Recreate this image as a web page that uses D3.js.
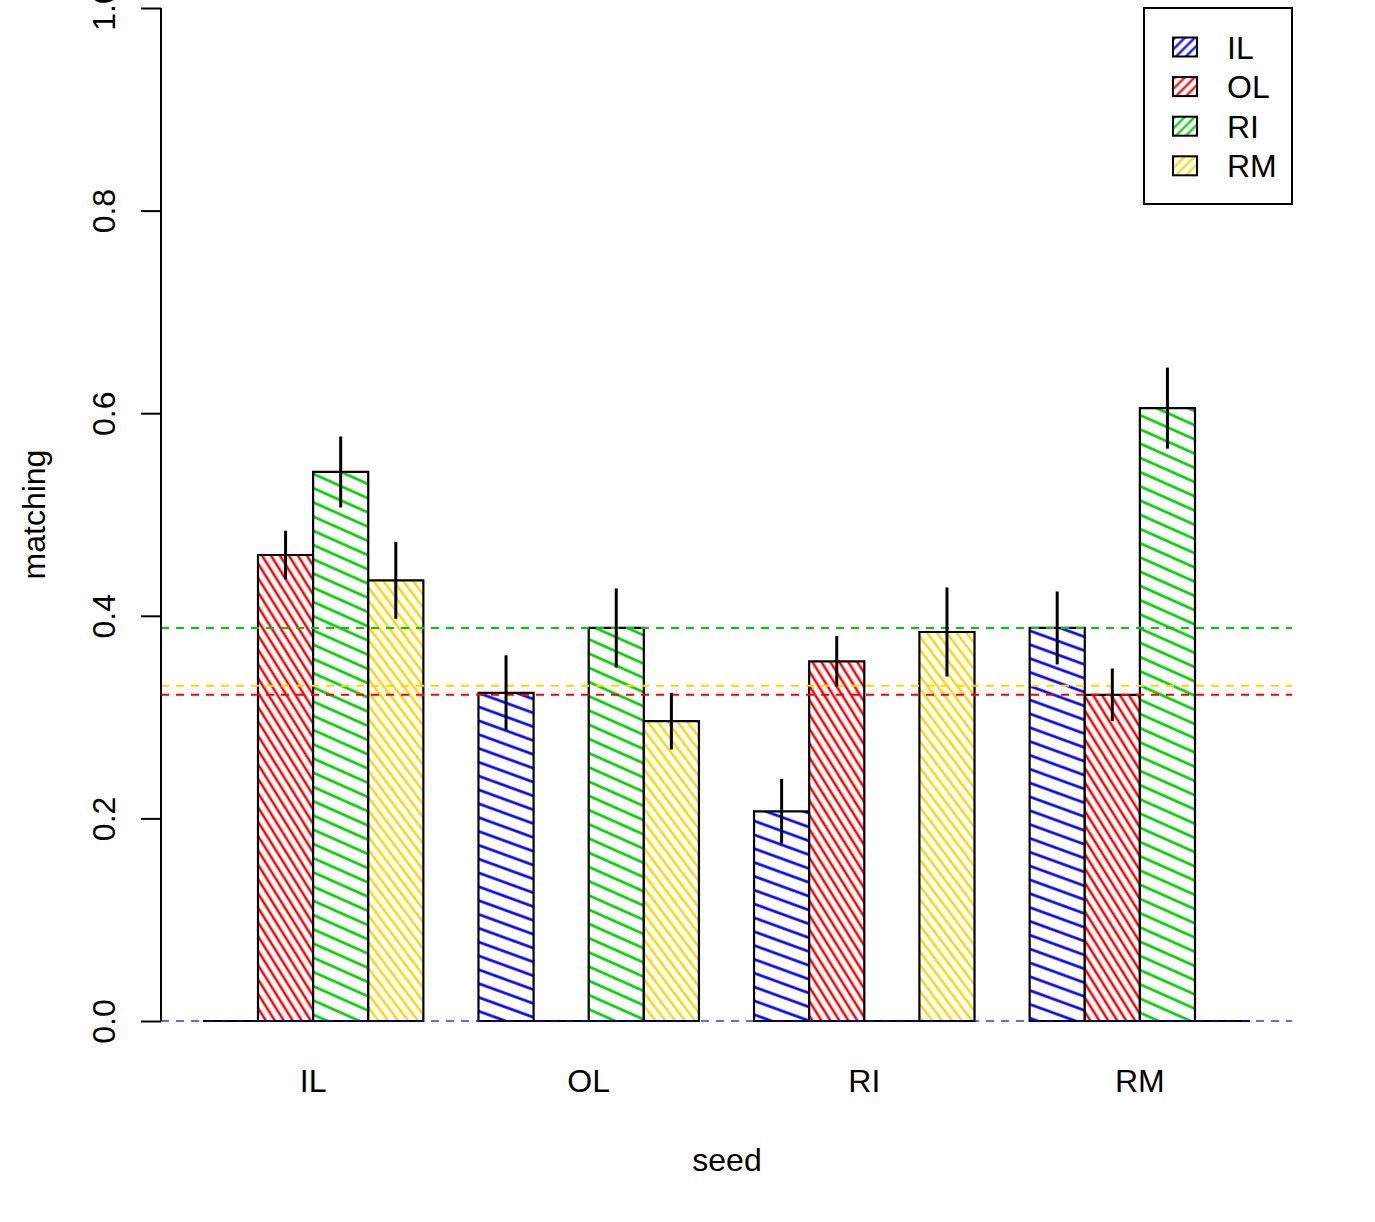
<!DOCTYPE html>
<html>
<head>
<meta charset="utf-8">
<script src="https://cdn.jsdelivr.net/npm/d3@7"></script>
<style>
  html, body { margin: 0; padding: 0; background: #fff; }
  svg { display: block; font-family: "Liberation Sans", Arial, Helvetica, sans-serif; }
</style>
</head>
<body>
<svg id="chart" width="1375" height="1222"></svg>
<script>
// ---- data ----
const categories = ["IL", "OL", "RI", "RM"];          // seed groups (x axis)
const seriesNames = ["IL", "OL", "RI", "RM"];         // bars within each group / legend
const valuesIL = [0.000, 0.324, 0.207, 0.388];
const valuesOL = [0.460, 0.000, 0.355, 0.322];
const valuesRI = [0.542, 0.388, 0.000, 0.605];
const valuesRM = [0.435, 0.296, 0.384, 0.000];
const errorsIL = [0.000, 0.037, 0.032, 0.036];
const errorsOL = [0.024, 0.000, 0.025, 0.026];
const errorsRI = [0.035, 0.039, 0.000, 0.040];
const errorsRM = [0.038, 0.028, 0.044, 0.000];
const baselines = [0.000, 0.322, 0.388, 0.331];       // dashed reference lines per series
const yTicks = [0.0, 0.2, 0.4, 0.6, 0.8, 1.0];
const xTitle = "seed";
const yTitle = "matching";

const seriesValues = [valuesIL, valuesOL, valuesRI, valuesRM];
const seriesErrors = [errorsIL, errorsOL, errorsRI, errorsRM];

// ---- styles ----
const colors = ["#0000FF", "#FF0000", "#00CD00", "#FFD700"];
const hatchAngle = [20, 58, 24, 53];
const hatchSpacing = [13, 7.6, 13, 7.9];
const hatchWidth = [2.6, 2.5, 2.6, 2.5];
const FONT = 32;

const svg = d3.select("#chart");
svg.append("rect").attr("width", 1375).attr("height", 1222).attr("fill", "#fff");

const defs = svg.append("defs");
seriesNames.forEach((s, i) => {
  const sp = hatchSpacing[i];
  const p = defs.append("pattern")
    .attr("id", "hatch" + i)
    .attr("patternUnits", "userSpaceOnUse")
    .attr("width", 10).attr("height", sp)
    .attr("patternTransform", `rotate(${hatchAngle[i]})`);
  p.append("rect").attr("width", 10).attr("height", sp).attr("fill", "#fff");
  p.append("line").attr("x1", -1).attr("x2", 11).attr("y1", sp / 2).attr("y2", sp / 2)
    .attr("stroke", colors[i]).attr("stroke-width", hatchWidth[i]);
  // legend pattern at 45 degrees
  const q = defs.append("pattern")
    .attr("id", "leg" + i)
    .attr("patternUnits", "userSpaceOnUse")
    .attr("width", 10).attr("height", 7)
    .attr("patternTransform", "rotate(-45)");
  q.append("rect").attr("width", 10).attr("height", 7).attr("fill", "#fff");
  q.append("line").attr("x1", -1).attr("x2", 11).attr("y1", 3.5).attr("y2", 3.5)
    .attr("stroke", colors[i]).attr("stroke-width", 2.2);
});

// ---- scales (R barplot semantics: space = c(0,1), 4 bars per group) ----
const nS = seriesNames.length;
const groupWidth = nS + 1;
const xMin = 1, xMax = categories.length * groupWidth;
const ext = (xMax - xMin) * 0.04;
const x = d3.scaleLinear().domain([xMin - ext, xMax + ext]).range([161, 1292]);
const y = d3.scaleLinear().domain([0, 1]).range([1021, 8]);

const bars = [];
categories.forEach((c, g) => {
  seriesNames.forEach((s, i) => {
    const left = g * groupWidth + 1 + i;
    bars.push({ g, i, left, value: seriesValues[i][g], err: seriesErrors[i][g] });
  });
});

// bars
svg.append("g").selectAll("path").data(bars).join("path")
  .attr("d", d => {
    const x0 = x(d.left), x1 = x(d.left + 1), y0 = y(0), y1 = y(d.value);
    return `M${x0},${y0}H${x1}V${y1}H${x0}Z`;
  })
  .attr("fill", d => `url(#hatch${d.i})`)
  .attr("stroke", "#000")
  .attr("stroke-width", 2.2);

// dashed reference lines
svg.append("g").selectAll("line").data(baselines).join("line")
  .attr("x1", x.range()[0]).attr("x2", x.range()[1])
  .attr("y1", d => y(d)).attr("y2", d => y(d))
  .attr("stroke", (d, i) => colors[i])
  .attr("stroke-opacity", (d, i) => i === 0 ? 0.6 : 1)
  .attr("stroke-width", 2)
  .attr("stroke-dasharray", "8,7");

// error bars
svg.append("g").selectAll("line").data(bars.filter(d => d.err > 0)).join("line")
  .attr("x1", d => x(d.left + 0.5)).attr("x2", d => x(d.left + 0.5))
  .attr("y1", d => y(d.value - d.err)).attr("y2", d => y(d.value + d.err))
  .attr("stroke", "#000").attr("stroke-width", 3);

// y axis
const yAxis = d3.axisLeft(y).tickValues(yTicks).tickFormat(d3.format(".1f"))
  .tickSize(20).tickSizeOuter(0).tickPadding(0);
const ya = svg.append("g").attr("transform", `translate(${x.range()[0]},0)`).call(yAxis);
ya.select(".domain").attr("stroke", "#000").attr("stroke-width", 2)
  .attr("d", `M0,${y(1)}V${y(0)}`);
ya.selectAll(".tick line").attr("stroke", "#000").attr("stroke-width", 2);
ya.selectAll(".tick text")
  .attr("x", null).attr("dy", null)
  .attr("transform", "translate(-46,0) rotate(-90)")
  .attr("text-anchor", "middle")
  .attr("fill", "#000")
  .style("font-size", FONT + "px")
  .style("font-family", '"Liberation Sans", Arial, sans-serif');

// x category labels (no axis line)
svg.append("g").selectAll("text").data(categories).join("text")
  .attr("x", (d, g) => x(g * groupWidth + 1 + nS / 2))
  .attr("y", 1092)
  .attr("text-anchor", "middle")
  .style("font-size", FONT + "px")
  .text(d => d);

// axis titles
svg.append("text").attr("x", 727).attr("y", 1171).attr("text-anchor", "middle")
  .style("font-size", FONT + "px").text(xTitle);
svg.append("text").attr("transform", `translate(45,${(y(0) + y(1)) / 2}) rotate(-90)`)
  .attr("text-anchor", "middle").style("font-size", FONT + "px").text(yTitle);

// legend
const lg = svg.append("g");
lg.append("rect").attr("x", 1144).attr("y", 8).attr("width", 148).attr("height", 196)
  .attr("fill", "#fff").attr("stroke", "#000").attr("stroke-width", 2);
const rowY = i => 47 + i * 39.6;
lg.selectAll("rect.sw").data(seriesNames).join("rect").attr("class", "sw")
  .attr("x", 1173).attr("y", (d, i) => rowY(i) - 9.5)
  .attr("width", 24).attr("height", 19)
  .attr("fill", (d, i) => `url(#leg${i})`)
  .attr("stroke", "#000").attr("stroke-width", 2);
lg.selectAll("text").data(seriesNames).join("text")
  .attr("x", 1227).attr("y", (d, i) => rowY(i) + 11.5)
  .style("font-size", FONT + "px")
  .text(d => d);
</script>
</body>
</html>
